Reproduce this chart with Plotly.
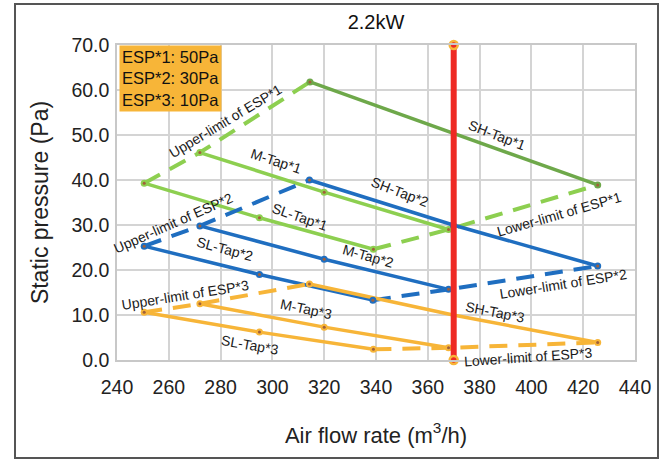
import plotly.graph_objects as go

# ---------------- data ----------------
x_ticks = [240, 260, 280, 300, 320, 340, 360, 380, 400, 420, 440]
y_ticks = [0, 10, 20, 30, 40, 50, 60, 70]

# ESP*1 (50Pa)
sl1_x = [250.5, 295.0, 339.0]
sl1_y = [39.3, 31.6, 24.6]
m1_x = [272.0, 320.0, 368.0]
m1_y = [46.1, 37.3, 29.0]
sh1_x = [314.5, 370.0, 425.6]
sh1_y = [61.8, 50.3, 38.9]
up1_x = [250.5, 272.0, 314.5]
up1_y = [39.3, 46.1, 61.8]
lo1_x = [339.0, 368.0, 425.6]
lo1_y = [24.6, 29.0, 38.9]

# ESP*2 (30Pa)
sl2_x = [250.5, 295.0, 338.8]
sl2_y = [25.3, 19.0, 13.3]
m2_x = [272.0, 320.0, 368.0]
m2_y = [29.8, 22.4, 15.7]
sh2_x = [314.3, 369.8, 425.6]
sh2_y = [40.0, 30.0, 20.9]
up2_x = [250.5, 272.0, 314.3]
up2_y = [25.3, 29.8, 40.0]
lo2_x = [338.8, 368.0, 425.6]
lo2_y = [13.3, 15.7, 20.9]

# ESP*3 (10Pa)
sl3_x = [250.5, 295.0, 339.0]
sl3_y = [10.6, 6.2, 2.4]
m3_x = [272.0, 320.0, 368.0]
m3_y = [12.5, 7.3, 2.7]
sh3_x = [314.3, 369.8, 425.6]
sh3_y = [16.9, 10.0, 3.9]
up3_x = [250.5, 272.0, 314.3]
up3_y = [10.6, 12.5, 16.9]
lo3_x = [339.0, 368.0, 425.6]
lo3_y = [2.4, 2.7, 3.9]

# operating line
op_x = [370, 370]
op_y = [0, 70]

title_text = "2.2kW"
legend_lines = ["ESP*1: 50Pa", "ESP*2: 30Pa", "ESP*3: 10Pa"]

# labels: text, x, y, angle
label_text = ["Upper-limit of ESP*1", "M-Tap*1", "SL-Tap*1", "SH-Tap*1", "SH-Tap*2",
              "Lower-limit of ESP*1", "Upper-limit of ESP*2", "SL-Tap*2", "M-Tap*2",
              "Lower-limit of ESP*2", "Upper-limit of ESP*3", "M-Tap*3", "SL-Tap*3",
              "SH-Tap*3", "Lower-limit of ESP*3"]
label_x = [281.9, 301.4, 310.7, 386.6, 349.3, 411.0, 261.7, 281.7, 336.9,
           412.2, 266.3, 313.0, 291.4, 385.9, 398.7]
label_y = [53.2, 44.2, 31.8, 50.0, 37.4, 32.4, 30.4, 24.7, 23.1,
           16.9, 14.4, 11.3, 3.3, 10.6, 0.6]
label_angle = [-31, 18, 19, 21, 21, -16, -24, 15, 16, -9, -9, 12, 10, 11, -4]

# ---------------- style ----------------
GREEN_D = "#6EA84A"
GREEN_L = "#8DCF50"
BLUE = "#1F6EC0"
ORANGE = "#F7B538"
RED = "#EE2A24"
DOT = "#A0603A"

fig = go.Figure()


def add_line(xs, ys, color, dashed=False, width=3.5):
    fig.add_trace(go.Scatter(
        x=xs, y=ys, mode="lines",
        line=dict(color=color, width=4 if dashed else width,
                  dash="18px,11px" if dashed else "solid"),
        hoverinfo="skip", showlegend=False))


def add_pts(xs, ys, color):
    fig.add_trace(go.Scatter(
        x=xs, y=ys, mode="markers",
        marker=dict(color=color, size=7),
        hoverinfo="skip", showlegend=False))
    fig.add_trace(go.Scatter(
        x=xs, y=ys, mode="markers",
        marker=dict(color=DOT, size=3),
        hoverinfo="skip", showlegend=False))


# green
add_line(up1_x, up1_y, GREEN_L, dashed=True)
add_line(lo1_x, lo1_y, GREEN_L, dashed=True)
add_line(sl1_x, sl1_y, GREEN_L)
add_line(m1_x, m1_y, GREEN_L)
add_line(sh1_x, sh1_y, GREEN_D)
# blue
add_line(up2_x, up2_y, BLUE, dashed=True)
add_line(lo2_x, lo2_y, BLUE, dashed=True)
add_line(sl2_x, sl2_y, BLUE)
add_line(m2_x, m2_y, BLUE)
add_line(sh2_x, sh2_y, BLUE)
# orange
add_line(up3_x, up3_y, ORANGE, dashed=True)
add_line(lo3_x, lo3_y, ORANGE, dashed=True)
add_line(sl3_x, sl3_y, ORANGE)
add_line(m3_x, m3_y, ORANGE)
add_line(sh3_x, sh3_y, ORANGE)

add_pts(sl1_x, sl1_y, GREEN_L)
add_pts(m1_x, m1_y, GREEN_L)
add_pts([sh1_x[0], sh1_x[2]], [sh1_y[0], sh1_y[2]], GREEN_D)
add_pts(sl2_x, sl2_y, BLUE)
add_pts(m2_x, m2_y, BLUE)
add_pts(sh2_x, sh2_y, BLUE)
add_pts(sl3_x, sl3_y, ORANGE)
add_pts(m3_x, m3_y, ORANGE)
add_pts([sh3_x[0], sh3_x[2]], [sh3_y[0], sh3_y[2]], ORANGE)

# red operating line
fig.add_trace(go.Scatter(
    x=op_x, y=op_y, mode="lines+markers",
    line=dict(color=RED, width=6),
    marker=dict(color=RED, size=8, line=dict(color=ORANGE, width=2.5)),
    cliponaxis=False, hoverinfo="skip", showlegend=False))

# labels
for t, lx, ly, a in zip(label_text, label_x, label_y, label_angle):
    fig.add_annotation(x=lx, y=ly, text=t, textangle=a, showarrow=False,
                       font=dict(family="Liberation Sans", size=14, color="#1a1a1a"))

# ESP box
fig.add_annotation(xref="paper", yref="paper", x=0.003, y=1.0,
                   xanchor="left", yanchor="top", align="left",
                   text="<br>".join(legend_lines), showarrow=False,
                   bgcolor=ORANGE, borderpad=2,
                   font=dict(family="Liberation Sans", size=16.5, color="#111"))

# outer border
fig.add_shape(type="rect", xref="paper", yref="paper",
              x0=-0.1969, x1=1.0444, y0=-0.311, y1=1.130,
              line=dict(color="#555555", width=2), fillcolor="rgba(0,0,0,0)")

axis_common = dict(showgrid=True, gridcolor="#D4D4D4", gridwidth=1.5,
                   showline=True, linecolor="#C8C8C8", linewidth=1.5, mirror=True,
                   zeroline=False,
                   tickfont=dict(family="Liberation Sans", size=19.5, color="#222"))

fig.update_layout(
    width=665, height=460,
    margin=dict(l=117, r=30, t=45, b=100),
    paper_bgcolor="white", plot_bgcolor="white",
    title=dict(text=title_text, x=(117 + 259) / 665, xanchor="center",
               y=1 - 22 / 460, yanchor="middle",
               font=dict(family="Liberation Sans", size=20, color="#111")),
    xaxis=dict(range=[240, 440], tickvals=x_ticks,
               ticktext=[str(v) for v in x_ticks],
               ticks="outside", ticklen=9, tickcolor="rgba(0,0,0,0)",
               title=dict(text="Air flow rate (m<sup>3</sup>/h)", standoff=30,
                          font=dict(family="Liberation Sans", size=22, color="#222")),
               **axis_common),
    yaxis=dict(range=[0, 70], tickvals=y_ticks,
               ticktext=[f"{v:.1f}" for v in y_ticks],
               ticks="outside", ticklen=2, tickcolor="rgba(0,0,0,0)",
               title=dict(text="Static pressure (Pa)", standoff=16,
                          font=dict(family="Liberation Sans", size=23, color="#222")),
               **axis_common),
)

fig.write_html("out.html", config={"displayModeBar": False},
               post_script="document.body.style.margin='0';")
